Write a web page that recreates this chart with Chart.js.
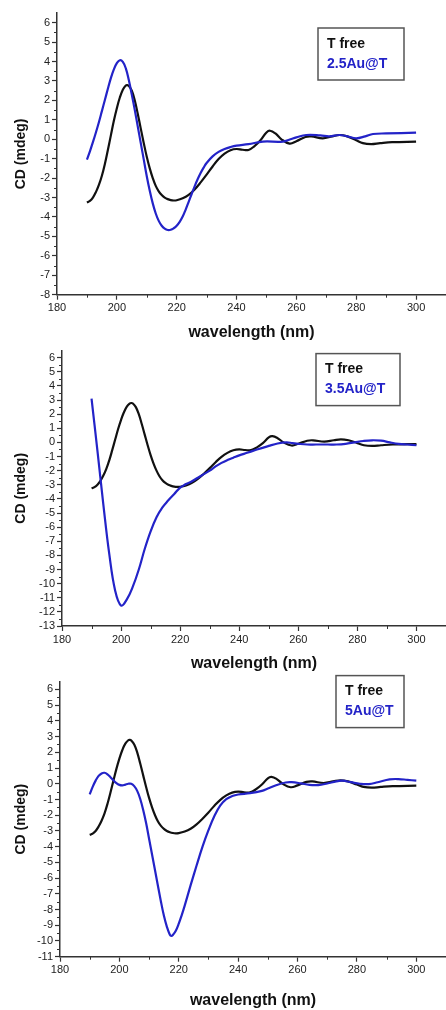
<!DOCTYPE html>
<html>
<head>
<meta charset="utf-8">
<script src="https://cdn.jsdelivr.net/npm/chart.js@4.4.1/dist/chart.umd.min.js"></script>
<style>
  html, body { margin: 0; padding: 0; background: #fff; }
  body { width: 446px; height: 1010px; position: relative; overflow: hidden; }
  canvas { position: absolute; left: 0; }
</style>
</head>
<body>
<canvas id="cd1" width="446" height="342" style="top:0px"></canvas>
<canvas id="cd2" width="446" height="331" style="top:342px"></canvas>
<canvas id="cd3" width="446" height="337" style="top:673px"></canvas>
<script>
// T free (same reference spectrum in every panel)
const tFreeNm = [190,191,192,193,194,195,196,197,198,199,200,201,202,203,203.5,204,205,206,207,208,209,210,211,212,213,214,215,216,217,218,219,220,222,224,226,228,230,232,234,236,238,240,242,244,246,248,250,251.2,253,255,257.7,260,263,265,268.8,272,274.4,277,280,282.2,285,288,292,300];
const tFreeCd = [-3.25,-3.17,-3.0,-2.72,-2.35,-1.88,-1.27,-0.55,0.2,0.95,1.6,2.15,2.55,2.77,2.79,2.75,2.5,2.0,1.3,0.55,-0.2,-0.9,-1.5,-2.0,-2.4,-2.68,-2.87,-3.0,-3.08,-3.13,-3.15,-3.14,-3.04,-2.86,-2.58,-2.22,-1.82,-1.4,-1.02,-0.74,-0.56,-0.5,-0.54,-0.55,-0.35,-0.05,0.35,0.44,0.3,0.0,-0.22,-0.1,0.12,0.15,0.05,0.15,0.22,0.15,-0.05,-0.2,-0.25,-0.2,-0.15,-0.12];

// 2.5Au@T
const au25Nm = [190,191,192,193,194,195,196,197,198,199,200,201,202,203,204,205,206,207,208,209,210,211,212,213,214,215,216,217,218,219,220,221,222,223,224,225,226,227,228,229,230,232,234,236,238,240,244,248.8,255.5,258,260,263.3,268,271,274.4,277,280,283,285.6,290,300];
const au25Cd = [-1.05,-0.62,-0.15,0.35,0.88,1.45,2.02,2.6,3.15,3.6,3.92,4.07,3.98,3.65,3.05,2.3,1.5,0.65,-0.2,-1.05,-1.9,-2.65,-3.3,-3.82,-4.2,-4.45,-4.6,-4.67,-4.66,-4.58,-4.45,-4.25,-3.98,-3.62,-3.22,-2.82,-2.42,-2.06,-1.74,-1.46,-1.22,-0.88,-0.65,-0.5,-0.4,-0.33,-0.25,-0.12,-0.12,0.0,0.1,0.22,0.2,0.15,0.22,0.15,0.05,0.15,0.27,0.3,0.34];

// 3.5Au@T
const au35Nm = [190,192,194,196,198,200,202,204,206,208,210,212,214,216,218,220,222,224,226,228,230,232,234,236,238,240,243,246,250,253,256,258,260,263,266,270,273,276,279,282,285,288,291,294,297,300];
const au35Cd = [3.1,-0.6,-4.4,-7.9,-10.5,-11.55,-11.1,-10.2,-9.0,-7.55,-6.3,-5.3,-4.6,-4.1,-3.65,-3.2,-2.95,-2.75,-2.5,-2.25,-2.0,-1.7,-1.45,-1.25,-1.08,-0.92,-0.72,-0.5,-0.25,-0.08,0.0,-0.05,-0.1,-0.15,-0.15,-0.15,-0.15,-0.1,0.0,0.1,0.15,0.12,0.0,-0.1,-0.15,-0.2];

// 5Au@T
const au5Nm = [190,191,192,193,194,195,196,197,198,199,200,201,202,203,204,205,206,207,208,209,210,212,214,215,216,217,217.5,218,219,220,221,222,224,226,228,230,232,234,236,238,240,244,248,250,253,256,258,261,264,267,270,273,275,278,281,284,287,291,294,297,300];
const au5Cd = [-0.68,-0.2,0.2,0.5,0.66,0.7,0.6,0.42,0.22,0.04,-0.07,-0.1,-0.05,0.0,0.0,-0.15,-0.45,-0.95,-1.65,-2.5,-3.5,-5.5,-7.5,-8.4,-9.1,-9.6,-9.68,-9.62,-9.35,-8.9,-8.35,-7.75,-6.45,-5.2,-4.0,-2.95,-2.05,-1.38,-0.98,-0.78,-0.68,-0.6,-0.45,-0.3,-0.08,0.08,0.1,0.03,-0.07,-0.08,0.02,0.15,0.2,0.1,0.0,-0.02,0.1,0.28,0.3,0.25,0.2];

const xTickLabels = [180, 200, 220, 240, 260, 280, 300];
const yTop = 6;

const toPoints = (xs, ys) => xs.map((x, i) => ({ x: x, y: ys[i] }));

Chart.defaults.font.family = '"Liberation Sans", Arial, sans-serif';
Chart.defaults.color = '#222';

const AXIS = '#333';
const BLUE = '#2323c8';

// small in-between ticks (10 nm / 0.5 mdeg)
const minorTicks = {
  id: 'minorTicks',
  afterDraw(chart) {
    const ctx = chart.ctx;
    const x = chart.scales.x, y = chart.scales.y;
    ctx.save();
    ctx.strokeStyle = AXIS;
    ctx.lineWidth = 1;
    ctx.beginPath();
    for (let v = x.min + 10; v < x.max; v += 20) {
      const px = Math.round(x.getPixelForValue(v)) + 0.5;
      ctx.moveTo(px, x.top);
      ctx.lineTo(px, x.top + 3);
    }
    for (let v = Math.ceil(y.min) + 0.5; v < y.max; v += 1) {
      const py = Math.round(y.getPixelForValue(v)) + 0.5;
      ctx.moveTo(y.right, py);
      ctx.lineTo(y.right - 3, py);
    }
    ctx.stroke();
    ctx.restore();
  }
};

// boxed legend with coloured text
const legendBox = {
  id: 'legendBox',
  afterDraw(chart, args, opts) {
    const ctx = chart.ctx, a = chart.chartArea;
    const bx = a.right - opts.right, by = a.top + opts.top;
    ctx.save();
    ctx.strokeStyle = '#555';
    ctx.lineWidth = 1.5;
    ctx.strokeRect(bx, by, opts.width, 52);
    ctx.font = 'bold 14px "Liberation Sans", Arial, sans-serif';
    ctx.textBaseline = 'middle';
    ctx.textAlign = 'left';
    chart.data.datasets.forEach((ds, i) => {
      ctx.fillStyle = ds.borderColor;
      ctx.fillText(ds.label, bx + 9, by + 16 + i * 20);
    });
    ctx.restore();
  }
};

const panels = [
  { id: 'cd1', nm: au25Nm, cd: au25Cd, label: '2.5Au@T', yMin: -8, yWidth: 57, padTop: 13, xHeight: 47.3,
    legend: { right: 128, top: 15, width: 86 } },
  { id: 'cd2', nm: au35Nm, cd: au35Cd, label: '3.5Au@T', yMin: -13, yWidth: 62, padTop: 4, xHeight: 47,
    legend: { right: 130, top: 3, width: 84 } },
  { id: 'cd3', nm: au5Nm, cd: au5Cd, label: '5Au@T', yMin: -11, yWidth: 60, padTop: 7, xHeight: 53.3,
    legend: { right: 110, top: -6, width: 68 } }
];

panels.forEach(p => {
  new Chart(document.getElementById(p.id).getContext('2d'), {
    type: 'line',
    data: {
      datasets: [
        {
          label: 'T free',
          data: toPoints(tFreeNm, tFreeCd),
          borderColor: '#111',
          borderWidth: 2.2,
          order: 1
        },
        {
          label: p.label,
          data: toPoints(p.nm, p.cd),
          borderColor: BLUE,
          borderWidth: 2.2,
          order: 0
        }
      ]
    },
    options: {
      responsive: false,
      animation: false,
      layout: { padding: { top: p.padTop, right: 0, bottom: 0, left: 0 } },
      elements: {
        point: { radius: 0 },
        line: { tension: 0.4, fill: false }
      },
      plugins: {
        legend: { display: false },
        tooltip: { enabled: false },
        legendBox: p.legend
      },
      scales: {
        x: {
          type: 'linear',
          min: 180,
          max: 310,
          afterBuildTicks: s => { s.ticks = xTickLabels.map(v => ({ value: v })); },
          afterFit: s => { s.height = p.xHeight; },
          ticks: { stepSize: 20, autoSkip: false, maxRotation: 0, padding: 2, font: { size: 11 } },
          grid: { drawOnChartArea: false, tickLength: 5, tickColor: AXIS, tickWidth: 1.2 },
          border: { color: AXIS, width: 1.5 },
          title: {
            display: true,
            text: 'wavelength (nm)',
            color: '#111',
            font: { size: 16, weight: 'bold' },
            padding: { top: 0, bottom: 0 }
          }
        },
        y: {
          min: p.yMin,
          max: 6.5,
          afterBuildTicks: s => {
            const t = [];
            for (let v = p.yMin; v <= yTop; v++) t.push({ value: v });
            s.ticks = t;
          },
          afterFit: s => { s.width = p.yWidth; },
          ticks: { stepSize: 1, autoSkip: false, padding: 2, font: { size: 11 } },
          grid: { drawOnChartArea: false, tickLength: 5, tickColor: AXIS, tickWidth: 1.2 },
          border: { color: AXIS, width: 1.5 },
          title: {
            display: true,
            text: 'CD (mdeg)',
            color: '#111',
            font: { size: 14, weight: 'bold' },
            padding: { top: 13, bottom: 0 }
          }
        }
      }
    },
    plugins: [minorTicks, legendBox]
  });
});
</script>
</body>
</html>
